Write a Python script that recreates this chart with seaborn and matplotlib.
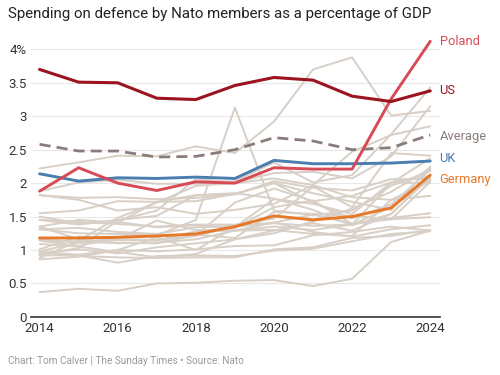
import pandas as pd
import matplotlib.pyplot as plt
import seaborn as sns

years = list(range(2014, 2025))

# highlighted series (% of GDP)
us = [3.70, 3.51, 3.50, 3.27, 3.25, 3.46, 3.58, 3.54, 3.30, 3.22, 3.38]
poland = [1.88, 2.23, 2.00, 1.89, 2.02, 2.00, 2.23, 2.21, 2.21, 3.26, 4.12]
uk = [2.14, 2.03, 2.08, 2.07, 2.09, 2.07, 2.34, 2.29, 2.29, 2.30, 2.33]
germany = [1.18, 1.18, 1.19, 1.21, 1.24, 1.35, 1.51, 1.45, 1.50, 1.63, 2.12]
average = [2.58, 2.48, 2.48, 2.39, 2.40, 2.50, 2.68, 2.63, 2.50, 2.53, 2.72]

# the other members, drawn as grey background lines
others = {
    'Albania': [1.35, 1.16, 1.10, 1.11, 1.16, 1.29, 1.30, 1.24, 1.21, 1.75, 2.03],
    'Belgium': [0.97, 0.91, 0.89, 0.88, 0.89, 0.89, 1.01, 1.04, 1.18, 1.21, 1.30],
    'Bulgaria': [1.31, 1.25, 1.24, 1.22, 1.45, 3.13, 1.59, 1.52, 1.59, 1.96, 2.18],
    'Canada': [1.01, 1.20, 1.16, 1.44, 1.30, 1.29, 1.41, 1.27, 1.20, 1.31, 1.37],
    'Croatia': [1.82, 1.75, 1.59, 1.64, 1.54, 1.60, 1.69, 1.97, 1.79, 1.75, 1.81],
    'Czechia': [0.95, 1.01, 0.95, 1.04, 1.10, 1.16, 1.29, 1.40, 1.29, 1.54, 2.10],
    'Denmark': [1.15, 1.11, 1.15, 1.14, 1.28, 1.29, 1.35, 1.30, 1.38, 2.00, 2.37],
    'Estonia': [1.88, 2.01, 2.05, 1.99, 1.99, 2.03, 2.31, 2.01, 2.12, 2.73, 3.43],
    'Finland': [1.45, 1.42, 1.39, 1.35, 1.38, 1.38, 1.47, 1.95, 1.64, 2.45, 2.41],
    'France': [1.82, 1.78, 1.79, 1.76, 1.78, 1.83, 2.03, 1.93, 1.89, 2.06, 2.06],
    'Greece': [2.22, 2.31, 2.41, 2.40, 2.55, 2.45, 2.92, 3.70, 3.88, 3.01, 3.08],
    'Hungary': [0.86, 0.90, 1.00, 1.19, 1.00, 1.34, 1.76, 1.69, 1.54, 2.01, 2.11],
    'Italy': [1.14, 1.06, 1.19, 1.21, 1.23, 1.18, 1.57, 1.54, 1.51, 1.46, 1.49],
    'Latvia': [0.93, 1.03, 1.44, 1.59, 2.06, 2.01, 2.15, 2.17, 2.07, 2.40, 3.15],
    'Lithuania': [0.88, 1.14, 1.48, 1.71, 1.96, 2.00, 2.07, 1.97, 2.47, 2.72, 2.85],
    'Luxembourg': [0.37, 0.42, 0.39, 0.50, 0.51, 0.54, 0.55, 0.46, 0.57, 1.12, 1.29],
    'Montenegro': [1.50, 1.40, 1.42, 1.34, 1.37, 1.33, 1.64, 1.74, 1.39, 1.46, 2.02],
    'Netherlands': [1.15, 1.13, 1.16, 1.15, 1.21, 1.35, 1.40, 1.36, 1.38, 1.64, 2.05],
    'North Macedonia': [1.09, 1.05, 0.97, 0.89, 0.94, 1.16, 1.25, 1.43, 1.62, 1.87, 2.22],
    'Norway': [1.55, 1.59, 1.73, 1.72, 1.73, 1.84, 2.00, 1.71, 1.47, 1.68, 2.20],
    'Portugal': [1.31, 1.33, 1.27, 1.24, 1.34, 1.36, 1.41, 1.53, 1.39, 1.48, 1.55],
    'Romania': [1.35, 1.45, 1.41, 1.72, 1.82, 1.84, 2.00, 1.85, 1.72, 1.60, 2.25],
    'Slovakia': [0.98, 1.11, 1.11, 1.10, 1.22, 1.71, 1.92, 1.73, 1.81, 2.01, 2.00],
    'Slovenia': [0.97, 0.93, 1.00, 0.98, 1.01, 1.06, 1.07, 1.22, 1.27, 1.35, 1.29],
    'Spain': [0.92, 0.92, 0.81, 0.91, 0.92, 0.91, 0.99, 1.02, 1.13, 1.24, 1.28],
    'Turkey': [1.45, 1.38, 1.45, 1.51, 1.82, 1.85, 1.77, 1.60, 1.37, 1.54, 2.09],
}

y_ticks = [0, 0.5, 1, 1.5, 2, 2.5, 3, 3.5, 4]
y_labels = ['0', '0.5', '1', '1.5', '2', '2.5', '3', '3.5', '4%']
x_ticks = [2014, 2016, 2018, 2020, 2022, 2024]

grey_df = pd.DataFrame([
    {'country': c, 'year': yr, 'pct': v}
    for c, vals in others.items() for yr, v in zip(years, vals)
])

sns.set_style('white')
plt.rcParams['font.family'] = ['Roboto', 'DejaVu Sans']

fig = plt.figure(figsize=(5, 3.75), dpi=100)
ax = fig.add_axes([0.062, 0.155, 0.818, 0.749])

sns.lineplot(data=grey_df, x='year', y='pct', units='country', estimator=None,
             color='#d8cfc6', linewidth=1.4, ax=ax, legend=False)

highlights = [
    ('Average', average, '#8a7d79', (0, (4, 2.2)), 2.0),
    ('Germany', germany, '#e6782a', '-', 2.1),
    ('UK', uk, '#4a7db0', '-', 2.1),
    ('Poland', poland, '#d84a56', '-', 2.1),
    ('US', us, '#9c1420', '-', 2.2),
]
for name, vals, col, ls, lw in highlights:
    sns.lineplot(x=years, y=vals, color=col, linestyle=ls, linewidth=lw, ax=ax)

# end-of-line labels
label_pos = {'Poland': 4.12, 'US': 3.38, 'Average': 2.70, 'UK': 2.37, 'Germany': 2.06}
for name, vals, col, ls, lw in highlights:
    ax.text(2024.24, label_pos[name], name, color=col, fontsize=9.3,
            va='center', ha='left', clip_on=False)

ax.set_xlim(2013.78, 2024.25)
ax.set_ylim(0, 4.2)
ax.set_yticks(y_ticks)
ax.set_yticklabels(y_labels)
ax.set_xticks(x_ticks)
ax.set_xlabel('')
ax.set_ylabel('')
ax.tick_params(axis='both', length=0, labelsize=9.5, colors='#333333')
ax.tick_params(axis='x', pad=4)
ax.tick_params(axis='y', pad=3)

for yv in y_ticks[1:]:
    ax.axhline(yv, color='#e8e8e8', linewidth=0.8, zorder=0)

for side in ['top', 'right', 'left']:
    ax.spines[side].set_visible(False)
ax.spines['bottom'].set_color('#333333')
ax.spines['bottom'].set_linewidth(1.2)

fig.text(0.016, 0.962, 'Spending on defence by Nato members as a percentage of GDP',
         fontsize=10.85, color='#222222', va='center')
fig.text(0.016, 0.036, 'Chart: Tom Calver | The Sunday Times \u2022 Source: Nato',
         fontsize=7.2, color='#9a9a9a', va='center')

fig.savefig('out.png', dpi=100)
plt.close(fig)
